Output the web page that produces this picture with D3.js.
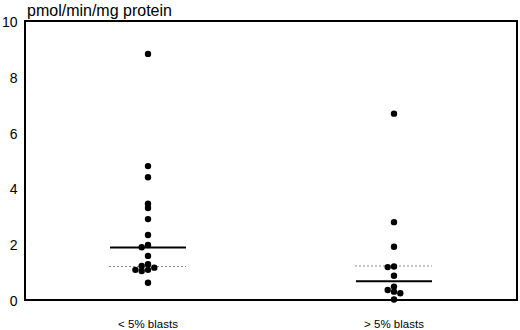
<!DOCTYPE html>
<html>
<head>
<meta charset="utf-8">
<script src="https://cdn.jsdelivr.net/npm/d3@7"></script>
<style>
  html, body { margin: 0; padding: 0; background: #fff; }
  svg { display: block; }
  text { font-family: "Liberation Sans", Arial, Helvetica, sans-serif; fill: #000; }
</style>
</head>
<body>
<svg id="chart" width="520" height="330"></svg>
<script>
// ---- data ----
const categories = ["< 5% blasts", "> 5% blasts"];
const groupLow  = [8.82, 4.8, 4.4, 3.45, 3.3, 2.9, 2.33, 1.97, 1.89, 1.58, 1.28, 1.22, 1.16, 1.08, 1.08, 1.04, 0.62];
const groupHigh = [6.68, 2.79, 1.91, 1.2, 1.18, 0.87, 0.48, 0.36, 0.3, 0.24, 0.02];
const medians   = [1.88, 0.67];
const controlRef = [1.2, 1.22];
const yTicks = [0, 2, 4, 6, 8, 10];
const yTitle = "pmol/min/mg protein";

// ---- layout ----
const svg = d3.select("#chart");
const mLeft = 25, mRight = 517, mTop = 21, mBottom = 300;

const x = d3.scaleBand().domain(categories).range([mLeft, mRight]).padding(0);
const y = d3.scaleLinear().domain([0, 10]).range([mBottom, mTop]);

const groups = [groupLow, groupHigh];
const r = 3.2, step = 6.3, minDist = 4.0;

// dodge so close points sit side by side
function dodge(values, cx) {
  const placed = [];
  const cands = [0, -1, 1, -2, 2, -3, 3];
  values.forEach(v => {
    const py = y(v);
    for (const k of cands) {
      const px = cx + k * step;
      if (placed.every(p => Math.hypot(p.x - px, p.y - py) >= minDist)) {
        placed.push({x: px, y: py, v});
        break;
      }
    }
  });
  return placed;
}

// frame
svg.append("rect")
  .attr("x", mLeft).attr("y", mTop)
  .attr("width", mRight - mLeft).attr("height", mBottom - mTop)
  .attr("fill", "none").attr("stroke", "#000").attr("stroke-width", 2);

// y tick labels
svg.append("g").selectAll("text").data(yTicks).join("text")
  .attr("x", 17.5)
  .attr("y", d => y(d) + 6)
  .attr("text-anchor", "end")
  .attr("font-size", 14)
  .text(d => d);

// y title
svg.append("text")
  .attr("x", 27).attr("y", 15.5)
  .attr("font-size", 16)
  .text(yTitle);

// x labels
svg.append("g").selectAll("text").data(categories).join("text")
  .attr("x", d => x(d) + x.bandwidth() / 2)
  .attr("y", 327.5)
  .attr("text-anchor", "middle")
  .attr("font-size", 11.5)
  .text(d => d);

const halfW = 38;

categories.forEach((c, i) => {
  const cx = x(c) + x.bandwidth() / 2;
  // reference (dotted) line
  svg.append("line")
    .attr("x1", cx - halfW - 1).attr("x2", cx + halfW)
    .attr("y1", y(controlRef[i])).attr("y2", y(controlRef[i]))
    .attr("stroke", "#8a8a8a").attr("stroke-width", 1)
    .attr("stroke-dasharray", "2,2");
  // median line
  svg.append("line")
    .attr("x1", cx - halfW).attr("x2", cx + halfW)
    .attr("y1", y(medians[i])).attr("y2", y(medians[i]))
    .attr("stroke", "#000").attr("stroke-width", 2);
  // points
  svg.append("g").selectAll("circle").data(dodge(groups[i], cx)).join("circle")
    .attr("cx", d => d.x).attr("cy", d => d.y).attr("r", r)
    .attr("fill", "#000");
});
</script>
</body>
</html>
